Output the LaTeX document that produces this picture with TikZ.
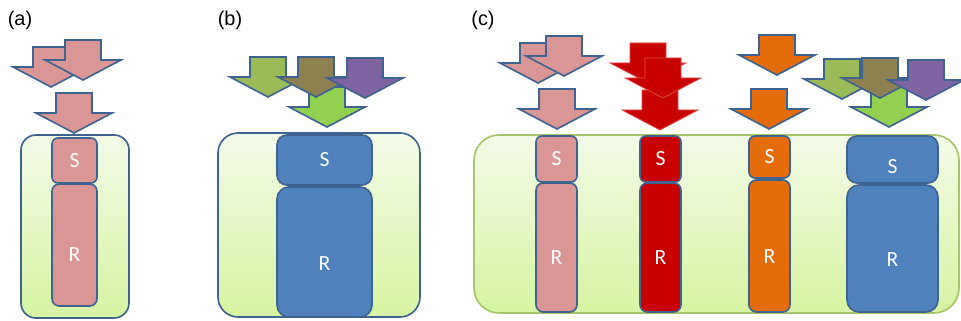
\documentclass[tikz,border=0pt]{standalone}
\usepackage{fontspec}
\setmainfont{Liberation Sans}
\newfontfamily\calib{Carlito}
\definecolor{edgeblue}{HTML}{3F6391}
\definecolor{pinkc}{HTML}{D99694}
\definecolor{redc}{HTML}{C80000}
\definecolor{redrim}{HTML}{E04848}
\definecolor{orangec}{HTML}{E46C0A}
\definecolor{bluec}{HTML}{4F81BD}
\definecolor{olivec}{HTML}{9BBB59}
\definecolor{brownc}{HTML}{8E8050}
\definecolor{purplec}{HTML}{8064A2}
\definecolor{limec}{HTML}{92D050}
\definecolor{celltop}{HTML}{F3FAE8}
\definecolor{cellbot}{HTML}{D6F4A2}
\definecolor{cellrim}{HTML}{A7C46A}
\tikzset{
  px/.style 2 args={minimum width=#1*0.03cm, minimum height=#2*0.03cm},
  cell/.style={top color=celltop, bottom color=cellbot, draw=edgeblue, line width=1.4pt, inner sep=0pt},
  part/.style={fill=#1, draw=edgeblue, line width=1.4pt, inner sep=0pt},
  lbl/.style={text=white, inner sep=0pt, font=\calib\fontsize{18.5}{20}\selectfont},
  panel/.style={inner sep=0pt, font=\fontsize{17}{19}\selectfont},
  arr/.style={fill=#1, draw=edgeblue, line width=1.4pt, line join=miter},
  rarr/.style={fill=redc, draw=redrim, line width=0.7pt, line join=miter},
}
\newcommand\bkarrow[3]{%
  \draw[#3] (#1-18,#2) -- (#1+18,#2) -- (#1+18,#2+20) -- (#1+38,#2+20) -- (#1,#2+40)
    -- (#1-38,#2+20) -- (#1-18,#2+20) -- cycle;}
\begin{document}
\begin{tikzpicture}[x=0.03cm, y=-0.03cm]
\useasboundingbox (0,0) rectangle (961,321);

% panel labels
\node[panel] (la) at (20,20) {(a)};
\node[panel] (lb) at (230,20) {(b)};
\node[panel] (lc) at (483,20) {(c)};

% ---------- panel (a)
\node[cell, rounded corners=0.45cm, px={108}{183}] (ca) at (75,226.5) {};
\node[part=pinkc, rounded corners=0.18cm, px={45}{45}] (sa) at (74.5,160.5) {};
\node[part=pinkc, rounded corners=0.22cm, px={45}{122}] (ra) at (74.5,245) {};
\node[lbl] (saT) at (sa.center) {S};
\node[lbl] (raT) at ([yshift=-0.3cm]ra.center) {R};
\bkarrow{51}{47}{arr=pinkc}
\bkarrow{83}{40}{arr=pinkc}
\bkarrow{74}{93}{arr=pinkc}

% ---------- panel (b)
\node[cell, rounded corners=0.6cm, px={202}{184}] (cb) at (319,225) {};
\node[part=bluec, rounded corners=0.3cm, px={95}{50}] (sb) at (324.5,160) {};
\node[part=bluec, rounded corners=0.36cm, px={95}{130}] (rb) at (324.5,252) {};
\node[lbl] (sbT) at (sb.center) {S};
\node[lbl] (rbT) at ([yshift=-0.36cm]rb.center) {R};
\bkarrow{327}{87}{arr=limec}
\bkarrow{268}{57}{arr=olivec}
\bkarrow{316}{57}{arr=brownc}
\bkarrow{365}{58}{arr=purplec}

% ---------- panel (c)
\node[cell, draw=cellrim, rounded corners=0.75cm, px={485}{178}] (cc) at (716.5,224) {};
% pink column
\node[part=pinkc, rounded corners=0.18cm, px={41}{46}] (sc1) at (556.5,159) {};
\node[part=pinkc, rounded corners=0.22cm, px={41}{129}] (rc1) at (556.5,247.5) {};
\node[lbl] (sc1T) at (sc1.center) {S};
\node[lbl] (rc1T) at ([yshift=-0.3cm]rc1.center) {R};
% red column
\node[part=redc, rounded corners=0.18cm, px={41}{46}] (sc2) at (660.5,159) {};
\node[part=redc, rounded corners=0.22cm, px={41}{129}] (rc2) at (660.5,247.5) {};
\node[lbl] (sc2T) at (sc2.center) {S};
\node[lbl] (rc2T) at ([yshift=-0.3cm]rc2.center) {R};
% orange column
\node[part=orangec, rounded corners=0.18cm, px={41}{42}] (sc3) at (769.5,157) {};
\node[part=orangec, rounded corners=0.22cm, px={41}{132}] (rc3) at (769.5,246) {};
\node[lbl] (sc3T) at (sc3.center) {S};
\node[lbl] (rc3T) at ([yshift=-0.33cm]rc3.center) {R};
% blue column
\node[part=bluec, rounded corners=0.3cm, px={91}{47}] (sc4) at (892.5,159.5) {};
\node[part=bluec, rounded corners=0.36cm, px={91}{127}] (rc4) at (892.5,248.5) {};
\node[lbl] (sc4T) at ([yshift=-0.2cm]sc4.center) {S};
\node[lbl] (rc4T) at ([yshift=-0.33cm]rc4.center) {R};

% arrows (c)
\bkarrow{538}{43}{arr=pinkc}
\bkarrow{564}{36}{arr=pinkc}
\bkarrow{557}{89}{arr=pinkc}
\bkarrow{660}{90}{rarr}
\bkarrow{648}{43}{rarr}
\bkarrow{663}{58}{rarr}
\bkarrow{777}{35}{arr=orangec}
\bkarrow{769}{89}{arr=orangec}
\bkarrow{889}{87}{arr=limec}
\bkarrow{842}{59}{arr=olivec}
\bkarrow{880}{58}{arr=brownc}
\bkarrow{926}{60}{arr=purplec}
\end{tikzpicture}
\end{document}
